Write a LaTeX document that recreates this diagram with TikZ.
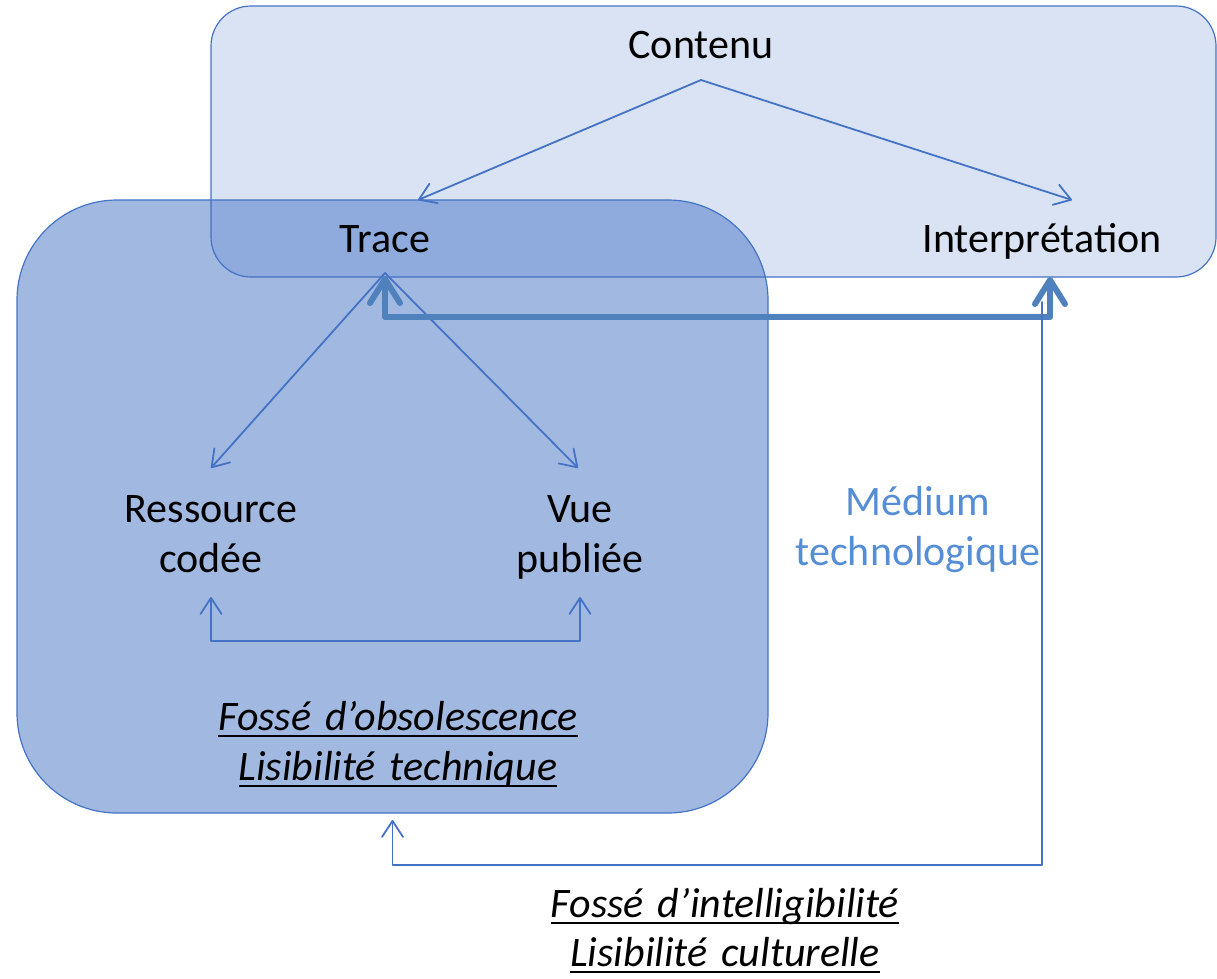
\documentclass[tikz,border=0pt]{standalone}
\usepackage{fontspec}
\setmainfont{Carlito}
\usetikzlibrary{arrows.meta,calc}
\definecolor{acc}{HTML}{4472C4}
\definecolor{thickc}{HTML}{4F81BD}
\definecolor{med}{HTML}{558ED5}
\newcommand\ulx[1]{\leavevmode\setbox0\hbox{#1}\rlap{\rule[-7pt]{\wd0}{2.4pt}}\box0}
\tikzset{
  txt/.style={inner sep=0pt, font=\fontsize{42}{50}\selectfont, text=black},
  txtm/.style={inner sep=0pt, text width=420pt, align=center, font=\fontsize{42}{50}\selectfont, text=black},
  thin/.style={draw=acc, line width=1.8pt, line join=round, line cap=round,
    arrows={-Straight Barb[length=16pt,width=21pt,line cap=round,line join=round]}},
  thinboth/.style={thin, arrows={Straight Barb[length=16pt,width=21pt,line cap=round,line join=round]-Straight Barb[length=16pt,width=21pt,line cap=round,line join=round]}},
  thick/.style={draw=thickc, line width=6pt, line join=round, line cap=round,
    arrows={Straight Barb[length=24pt,width=30pt,line cap=round,line join=round]-Straight Barb[length=24pt,width=30pt,line cap=round,line join=round]}},
  area/.style={draw=acc, fill=acc, line width=1.2pt, inner sep=0pt, outer sep=0pt}
}
\begin{document}
\begin{tikzpicture}[x=1pt,y=-1pt]
\useasboundingbox (0,0) rectangle (1217,978);
% boxes
\node[area, fill opacity=0.2, rounded corners=40pt, minimum width=1005pt, minimum height=271pt] (contbox) at (713.5,141.5) {};
\node[area, fill opacity=0.5, rounded corners=100pt, minimum width=751pt, minimum height=613pt] (bigbox) at (392.5,506.5) {};
% texts
\node[txt, anchor=base] (contenu) at (701,58) {Contenu};
\node[txt, anchor=base] (trace) at (385,252) {Trace};
\node[txt, anchor=base] (interp) at (1042,252) {Interprétation};
\node[txtm, anchor=base] (ress) at (211,522) {Ressource\\codée};
\node[txtm, anchor=base] (vue) at (580,522) {Vue\\publiée};
\node[txtm, anchor=base, text=med, font=\fontsize{42}{50}\selectfont] (medium) at (918,515) {Médium\\technologique};
\node[txtm, anchor=base, font=\fontsize{42}{50}\selectfont\itshape] (foss1) at (398,730) {\ulx{Fossé d’obsolescence}\\\ulx{Lisibilité technique}};
\node[txtm, anchor=base, font=\fontsize{42}{49}\selectfont\itshape] (foss2) at (725,917) {\ulx{Fossé d’intelligibilité}\\\ulx{Lisibilité culturelle}};
% connectors
\draw[thin] ([yshift=-22pt]contenu.base) -- ([xshift=33pt,yshift=52pt]trace.base);
\draw[thin] ([yshift=-22pt]contenu.base) -- ([xshift=30pt,yshift=52pt]interp.base);
\draw[thin] ([yshift=-21pt]trace.base) -- ([yshift=54pt]ress.base);
\draw[thin] ([yshift=-21pt]trace.base) -- ([xshift=-2pt,yshift=54pt]vue.base);
\draw[thinboth] ([yshift=-75pt]ress.base) -- ++(0,44) -| ([yshift=-75pt]vue.base);
\draw[thick] ([yshift=-24pt]trace.base) -- ++(0,41) -| ([xshift=8pt,yshift=-25pt]interp.base);
\draw[thin] ([yshift=-50pt]interp.base) -- ++(0,563) -| ([yshift=-7pt]bigbox.south);
\end{tikzpicture}
\end{document}
